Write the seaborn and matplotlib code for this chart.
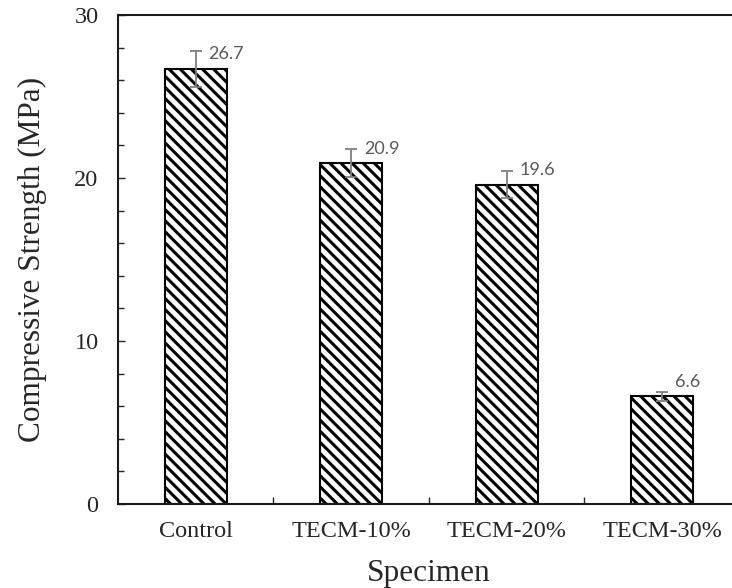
import matplotlib
matplotlib.use("Agg")
import matplotlib.pyplot as plt
from matplotlib.ticker import MultipleLocator, FixedLocator
import seaborn as sns
import pandas as pd

# Compressive strength results per specimen
specimens = ["Control", "TECM-10%", "TECM-20%", "TECM-30%"]
strength = [26.7, 20.9, 19.6, 6.6]
strength_err = [1.1, 0.85, 0.8, 0.3]
value_labels = ["26.7", "20.9", "19.6", "6.6"]

sns.set_style("ticks")
plt.rcParams["font.family"] = ["Liberation Serif", "DejaVu Serif"]
plt.rcParams["hatch.linewidth"] = 2.2
plt.rcParams["hatch.color"] = "black"

# dense back-diagonal hatch
HATCH = chr(92) * 3

df = pd.DataFrame({"Specimen": specimens, "Strength": strength})

fig = plt.figure(figsize=(7.32, 5.88), dpi=100)
ax = fig.add_axes([0.1612, 0.1429, 0.8497, 0.8316])

sns.barplot(data=df, x="Specimen", y="Strength", ax=ax, color="white",
            errorbar=None, width=0.40, edgecolor="black", linewidth=1.5,
            hatch=HATCH, saturation=1)

centers = [p.get_x() + p.get_width() / 2 for p in ax.patches]
ax.errorbar(centers, strength, yerr=strength_err, fmt="none",
            ecolor="#7f7f7f", elinewidth=1.3, capsize=4, capthick=1.3,
            zorder=4)

for x, v, e, lab in zip(centers, strength, strength_err, value_labels):
    ax.annotate(lab, xy=(x, v), xytext=(9, 10.5), textcoords="offset points",
                ha="left", va="center", fontsize=13, color="#595959",
                family=["Lato", "DejaVu Sans"])

ax.set_xlim(-0.5, 3.5)
ax.set_ylim(0, 30)
ax.yaxis.set_major_locator(MultipleLocator(10))
ax.yaxis.set_minor_locator(MultipleLocator(2))
ax.xaxis.set_minor_locator(FixedLocator([0.5, 1.5, 2.5]))

ax.tick_params(axis="y", which="major", direction="in", length=5, width=1,
               labelsize=17.5, pad=14)
ax.tick_params(axis="y", which="minor", direction="in", length=4, width=1)
ax.tick_params(axis="x", which="major", length=0, labelsize=17.5, pad=12.5)
ax.tick_params(axis="x", which="minor", direction="in", length=5, width=1)

for side in ["left", "bottom", "top"]:
    ax.spines[side].set_visible(True)
    ax.spines[side].set_linewidth(1.5)
    ax.spines[side].set_color("#1a1a1a")
ax.spines["right"].set_visible(False)

ax.set_xlabel("Specimen", fontsize=22.5, labelpad=12)
ax.set_ylabel("Compressive Strength (MPa)", fontsize=22.5, labelpad=20)

fig.savefig("out.png", dpi=100)
